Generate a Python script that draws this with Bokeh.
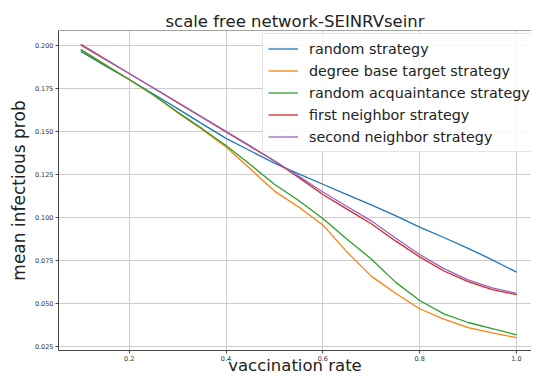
from bokeh.plotting import figure
from bokeh.models import FixedTicker, Legend, LegendItem, Span
from bokeh.embed import file_html
from bokeh.resources import INLINE

vaccination_rate = [0.10, 0.15, 0.20, 0.25, 0.30, 0.35, 0.40, 0.45, 0.50, 0.55,
                    0.60, 0.65, 0.70, 0.75, 0.80, 0.85, 0.90, 0.95, 1.00]

random_strategy = [0.1968, 0.1885, 0.1805, 0.1720, 0.1635, 0.1548, 0.1462, 0.1390, 0.1318, 0.1255,
                   0.1195, 0.1135, 0.1075, 0.1012, 0.0945, 0.0885, 0.0822, 0.0755, 0.0683]
degree_base_target = [0.1980, 0.1893, 0.1805, 0.1715, 0.1612, 0.1515, 0.1412, 0.1285, 0.1155, 0.1062,
                      0.0958, 0.0800, 0.0660, 0.0560, 0.0470, 0.0410, 0.0360, 0.0330, 0.0302]
random_acquaintance = [0.1977, 0.1890, 0.1805, 0.1715, 0.1615, 0.1520, 0.1420, 0.1310, 0.1195, 0.1100,
                       0.0995, 0.0875, 0.0760, 0.0625, 0.0518, 0.0440, 0.0390, 0.0355, 0.0318]
first_neighbor = [0.2010, 0.1925, 0.1840, 0.1755, 0.1670, 0.1585, 0.1500, 0.1415, 0.1330, 0.1235,
                  0.1135, 0.1050, 0.0965, 0.0865, 0.0772, 0.0690, 0.0628, 0.0582, 0.0552]
second_neighbor = [0.2004, 0.1922, 0.1840, 0.1757, 0.1672, 0.1588, 0.1503, 0.1418, 0.1332, 0.1242,
                   0.1150, 0.1065, 0.0982, 0.0882, 0.0786, 0.0704, 0.0638, 0.0592, 0.0560]

series_names = ["random strategy", "degree base target strategy", "random acquaintance strategy",
                "first neighbor strategy", "second neighbor strategy"]
series_values = [random_strategy, degree_base_target, random_acquaintance, first_neighbor, second_neighbor]
series_colors = ["#1f77b4", "#ff7f0e", "#2ca02c", "#d62728", "#9467bd"]

x_ticks = [0.2, 0.4, 0.6, 0.8, 1.0]
x_tick_labels = ["0.2", "0.4", "0.6", "0.8", "1.0"]
y_ticks = [0.025, 0.050, 0.075, 0.100, 0.125, 0.150, 0.175, 0.200]
y_tick_labels = ["0.025", "0.050", "0.075", "0.100", "0.125", "0.150", "0.175", "0.200"]

title_text = "scale free network-SEINRVseinr"
x_label_text = "vaccination rate"
y_label_text = "mean infectious prob"

x_min, x_max = 0.054, 1.031
y_min, y_max = 0.0227, 0.209

FONT = "DejaVu Sans"
W, H = 531, 377

p = figure(width=W, height=H, output_backend="svg", toolbar_location=None,
           x_range=(x_min, x_max), y_range=(y_min, y_max),
           min_border_left=58, min_border_right=0, min_border_top=30, min_border_bottom=27,
           title=title_text)

p.title.text_font = FONT
p.title.text_font_size = "16.5px"
p.title.text_font_style = "normal"
p.title.text_color = "#222222"
p.title.align = "center"
p.title.standoff = -1
p.title.offset = 3

p.background_fill_color = "white"
p.border_fill_color = "white"
p.outline_line_color = None

# top spine of the axes box
p.add_layout(Span(location=y_max, dimension="width", line_color="#444444", line_width=1.2))

p.xgrid.grid_line_color = "#cdcdcd"
p.ygrid.grid_line_color = "#cdcdcd"

xax = p.below[0]
yax = p.left[0]
xax.ticker = FixedTicker(ticks=x_ticks)
yax.ticker = FixedTicker(ticks=y_ticks)
xax.major_label_overrides = dict(zip(x_ticks, x_tick_labels))
yax.major_label_overrides = dict(zip(y_ticks, y_tick_labels))
p.xgrid.ticker = FixedTicker(ticks=x_ticks)
p.ygrid.ticker = FixedTicker(ticks=y_ticks)

for ax in (xax, yax):
    ax.major_label_text_font = FONT
    ax.major_label_text_font_size = "6.5px"
    ax.major_label_text_color = "#333333"
    ax.axis_line_color = "#444444"
    ax.major_tick_line_color = "#444444"
    ax.major_tick_out = 3
    ax.major_tick_in = 0
    ax.minor_tick_line_color = None
    ax.major_label_standoff = 2
    ax.axis_label_text_font = FONT
    ax.axis_label_text_font_style = "normal"
    ax.axis_label_text_color = "#222222"

yax.axis_label = y_label_text
yax.axis_label_text_font_size = "17px"
yax.axis_label_standoff = 3

xax.axis_label = x_label_text
xax.axis_label_text_font_size = "16.5px"
xax.axis_label_standoff = -8

items = []
for name, vals, col in zip(series_names, series_values, series_colors):
    r = p.line(vaccination_rate, vals, line_color=col, line_width=1.3)
    items.append(LegendItem(label=name, renderers=[r]))

legend = Legend(items=items, location=(204, 198))
legend.label_text_font = FONT
legend.label_text_font_size = "14.3px"
legend.label_text_color = "#222222"
legend.glyph_width = 30
legend.glyph_height = 19
legend.label_height = 19
legend.spacing = 3
legend.padding = 5
legend.margin = 0
legend.label_standoff = 11
legend.border_line_color = "#cccccc"
legend.background_fill_alpha = 0.85
p.add_layout(legend, "center")

open("out.html", "w").write(file_html(p, INLINE))
